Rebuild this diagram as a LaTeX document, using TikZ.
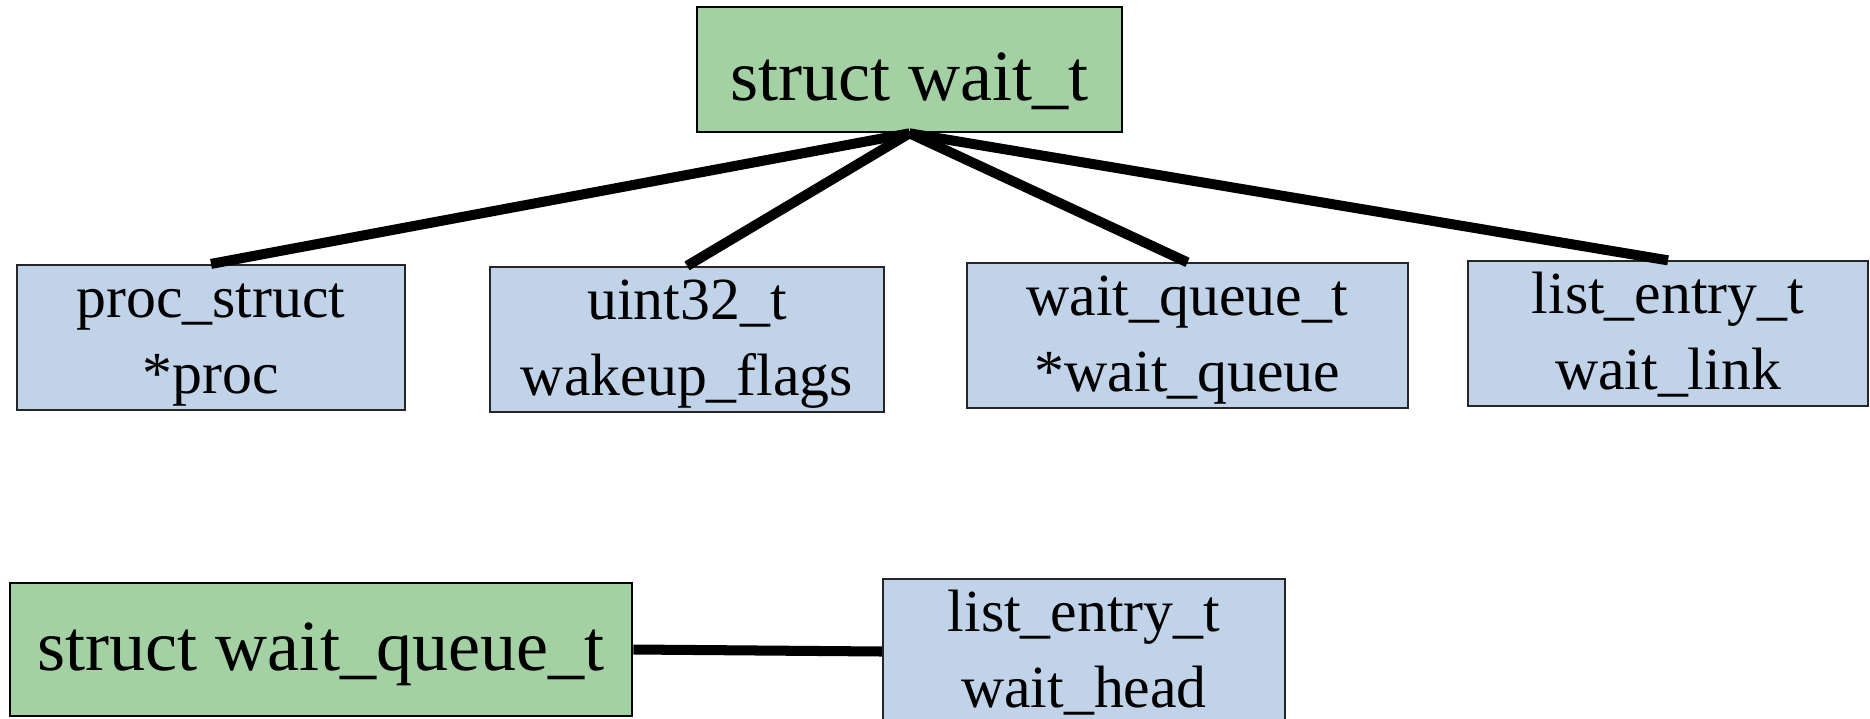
\documentclass[tikz,border=0pt]{standalone}
\usepackage{fontspec}
\setmainfont{Liberation Serif}
\usetikzlibrary{positioning}

\definecolor{structgreen}{RGB}{163,209,163}
\definecolor{fieldblue}{RGB}{192,211,233}

\begin{document}
\begin{tikzpicture}[
    x=0.01cm, y=-0.01cm,
    structbox/.style={draw=black, line width=0.7pt, fill=structgreen, inner sep=0pt,
                      font=\fontsize{20.5}{24}\selectfont},
    fieldbox/.style={draw=black!85, line width=0.6pt, fill=fieldblue, inner sep=0pt,
                     align=center, font=\fontsize{17}{21.5}\selectfont,
                     text height=36.4pt, text depth=4.6pt},
    link/.style={line width=2.85pt, black}
]

    \useasboundingbox (0, 0) rectangle (1870, 718);
    \clip (0, 0) rectangle (1870, 718);

    % struct wait_t and its fields
    \node[structbox, minimum width=4.25cm, minimum height=1.25cm, text height=26.5pt, text depth=9.1pt] (waitt) at (909.5, 69.5) {struct wait\_t};

    \node[fieldbox, minimum width=3.88cm, minimum height=1.45cm] (proc) at (211, 337.5) {proc\_struct\\*proc};
    \node[fieldbox, minimum width=3.94cm, minimum height=1.45cm] (flags) at (687, 339.5) {uint32\_t\\wakeup\_flags};
    \node[fieldbox, minimum width=4.41cm, minimum height=1.43cm] (queue) at (1187.5, 335.5) {wait\_queue\_t\\*wait\_queue};
    \node[fieldbox, minimum width=4.00cm, minimum height=1.43cm] (link) at (1668, 333.5) {list\_entry\_t\\wait\_link};

    \draw[link] (waitt.south) -- (proc.north);
    \draw[link] (waitt.south) -- (flags.north);
    \draw[link] (waitt.south) -- (queue.north);
    \draw[link] (waitt.south) -- (link.north);

    % struct wait_queue_t
    \node[structbox, minimum width=6.22cm, minimum height=1.33cm, text height=25pt, text depth=12.8pt] (waitq) at (321, 649.5) {struct wait\_queue\_t};
    \node[fieldbox, minimum width=4.02cm, minimum height=1.45cm] (head) at (1084, 651.5) {list\_entry\_t\\wait\_head};

    \draw[link] (waitq.east) -- (head.west);

\end{tikzpicture}
\end{document}
